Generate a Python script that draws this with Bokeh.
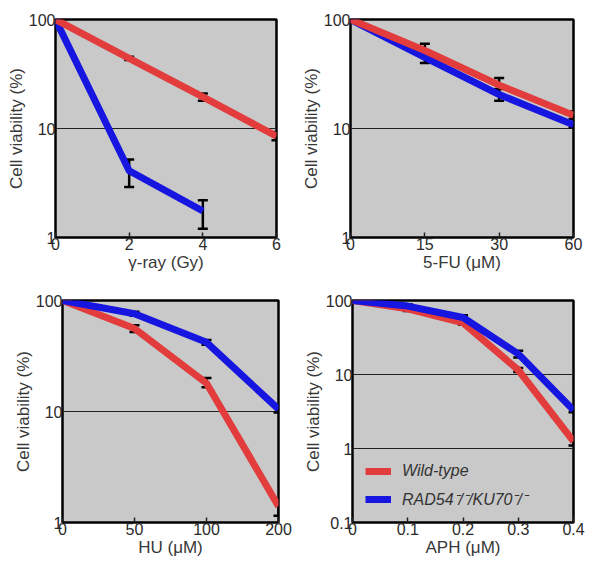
from bokeh.plotting import figure
from bokeh.layouts import row, column
from bokeh.models import (ColumnDataSource, Whisker, FixedTicker, CustomJSTickFormatter,
                          Legend, LegendItem, TeeHead)
from bokeh.embed import file_html
from bokeh.resources import INLINE

FONT = "Liberation Sans"
RED = "#e23c3c"
BLUE = "#1616e0"
BG = "#c9c9c9"

# Panel A: gamma-ray
gy_dose = [0, 2, 4, 6]
gy_wt = [100, 44, 19.5, 8.5]
gy_wt_lo = [100, 42.5, 18, 7.8]
gy_wt_hi = [100, 45.5, 21, 9.3]
gy_mut = [100, 4.1, 1.75]
gy_mut_lo = [100, 2.9, 1.2]
gy_mut_hi = [100, 5.2, 2.2]

# Panel B: 5-FU (equally spaced categories)
fu_dose = ["0", "15", "30", "60"]
fu_wt = [100, 52, 25, 13.2]
fu_wt_lo = [100, 46, 20.5, 12.2]
fu_wt_hi = [100, 60, 29, 14.3]
fu_mut = [100, 45, 20.5, 10.8]
fu_mut_lo = [100, 40, 18, 10.2]
fu_mut_hi = [100, 50, 23, 11.4]

# Panel C: HU (equally spaced categories)
hu_dose = ["0", "50", "100", "200"]
hu_wt = [100, 56, 18, 1.4]
hu_wt_lo = [100, 52, 16.5, 1.15]
hu_wt_hi = [100, 60, 20, 1.55]
hu_mut = [100, 76, 42, 10.5]
hu_mut_lo = [100, 73, 40, 9.8]
hu_mut_hi = [100, 79, 44, 11.2]

# Panel D: APH
aph_dose = [0, 0.1, 0.2, 0.3, 0.4]
aph_wt = [100, 77, 50, 11.5, 1.25]
aph_wt_lo = [100, 72, 47, 10.8, 1.1]
aph_wt_hi = [100, 82, 53, 12.2, 1.4]
aph_mut = [100, 84, 59, 19, 3.3]
aph_mut_lo = [100, 79, 55, 17, 3.1]
aph_mut_hi = [100, 89, 63, 21, 3.5]

legend_labels = ["Wild-type", "RAD54\u207b/\u207b/KU70\u207b/\u207b"]


def make_fig(width, height, borders, x_range, y_range, yticks, xticks, xlabels, xlabel):
    l, r, t, b = borders
    p = figure(width=width, height=height, y_axis_type="log", x_range=x_range, y_range=y_range,
               output_backend="svg", toolbar_location=None,
               min_border_left=l, min_border_right=r, min_border_top=t, min_border_bottom=b)
    p.background_fill_color = BG
    p.border_fill_color = "white"
    p.outline_line_color = "black"
    p.outline_line_width = 2.5
    p.xgrid.visible = False
    p.ygrid.grid_line_color = "#222222"
    p.ygrid.grid_line_width = 1
    p.ygrid.ticker = FixedTicker(ticks=yticks)
    p.yaxis.ticker = FixedTicker(ticks=yticks, minor_ticks=[])
    p.yaxis.formatter = CustomJSTickFormatter(code="return String(+tick.toPrecision(6));")
    p.xaxis.ticker = FixedTicker(ticks=xticks, minor_ticks=[])
    p.xaxis.major_label_overrides = {k: v for k, v in zip(xticks, xlabels)}
    for ax in (p.xaxis[0], p.yaxis[0]):
        ax.axis_line_color = None
        ax.minor_tick_line_color = None
        ax.major_label_text_font = FONT
        ax.major_label_text_font_size = "16px"
        ax.major_label_text_color = "#2a2a2a"
        ax.axis_label_text_font = FONT
        ax.axis_label_text_font_style = "normal"
        ax.axis_label_text_color = "#383838"
    p.yaxis.major_tick_line_color = None
    p.yaxis.major_tick_in = 0
    p.yaxis.major_tick_out = 0
    p.xaxis.major_tick_line_color = "#222222"
    p.xaxis.major_tick_line_width = 1.5
    p.xaxis.major_tick_in = 5
    p.xaxis.major_tick_out = 0
    p.xaxis.axis_label_text_font_size = "17px"
    p.yaxis.axis_label_text_font_size = "17px"
    p.xaxis.major_label_standoff = 0
    p.yaxis.major_label_standoff = 0
    p.xaxis.axis_label_standoff = 0
    p.yaxis.axis_label_standoff = 0
    p.xaxis.axis_label = xlabel
    p.yaxis.axis_label = "Cell viability (%)"
    return p


def add_series(p, x, y, lo, hi, color):
    xs = x[:len(y)]
    r = p.line(xs, y, line_color=color, line_width=7, line_join="round")
    src = ColumnDataSource(dict(x=xs, lo=lo, hi=hi))
    w = Whisker(source=src, base="x", lower="lo", upper="hi", line_color="black", line_width=2.5,
                upper_head=TeeHead(size=10, line_color="black", line_width=2.5),
                lower_head=TeeHead(size=10, line_color="black", line_width=2.5))
    p.add_layout(w)
    return r


# Panel A
p1 = make_fig(296, 285, (55, 20, 19, 48), (0, 6), (1, 100), [1, 10, 100],
              gy_dose, [str(d) for d in gy_dose], "\u03b3-ray (Gy)")
add_series(p1, gy_dose, gy_mut, gy_mut_lo, gy_mut_hi, BLUE)
add_series(p1, gy_dose, gy_wt, gy_wt_lo, gy_wt_hi, RED)

# Panel B
fu_idx = list(range(len(fu_dose)))
p2 = make_fig(297, 285, (54, 20, 18, 46), (0, 3), (1, 100), [1, 10, 100],
              fu_idx, fu_dose, "5-FU (\u03bcM)")
add_series(p2, fu_idx, fu_mut, fu_mut_lo, fu_mut_hi, BLUE)
add_series(p2, fu_idx, fu_wt, fu_wt_lo, fu_wt_hi, RED)

# Panel C
hu_idx = list(range(len(hu_dose)))
p3 = make_fig(296, 284, (62, 18, 15, 46), (0, 3), (1, 100), [1, 10, 100],
              hu_idx, hu_dose, "HU (\u03bcM)")
add_series(p3, hu_idx, hu_wt, hu_wt_lo, hu_wt_hi, RED)
add_series(p3, hu_idx, hu_mut, hu_mut_lo, hu_mut_hi, BLUE)

# Panel D
p4 = make_fig(297, 284, (56, 20, 15, 47), (0, 0.4), (0.1, 100), [0.1, 1, 10, 100],
              aph_dose, [("%g" % d) for d in aph_dose], "APH (\u03bcM)")
r_wt = add_series(p4, aph_dose, aph_wt, aph_wt_lo, aph_wt_hi, RED)
r_mut = add_series(p4, aph_dose, aph_mut, aph_mut_lo, aph_mut_hi, BLUE)
legend = Legend(items=[LegendItem(label=legend_labels[0], renderers=[r_wt]),
                       LegendItem(label=legend_labels[1], renderers=[r_mut])],
                location=(13, 12), background_fill_alpha=0, border_line_color=None,
                label_text_font=FONT, label_text_font_size="16px",
                label_text_font_style="italic", label_text_color="#333333",
                glyph_width=26, glyph_height=12, label_standoff=11, spacing=8,
                padding=3, margin=0)
p4.add_layout(legend, "center")

layout = column(row(p1, p2), row(p3, p4))
open("out.html", "w").write(file_html(layout, INLINE))
